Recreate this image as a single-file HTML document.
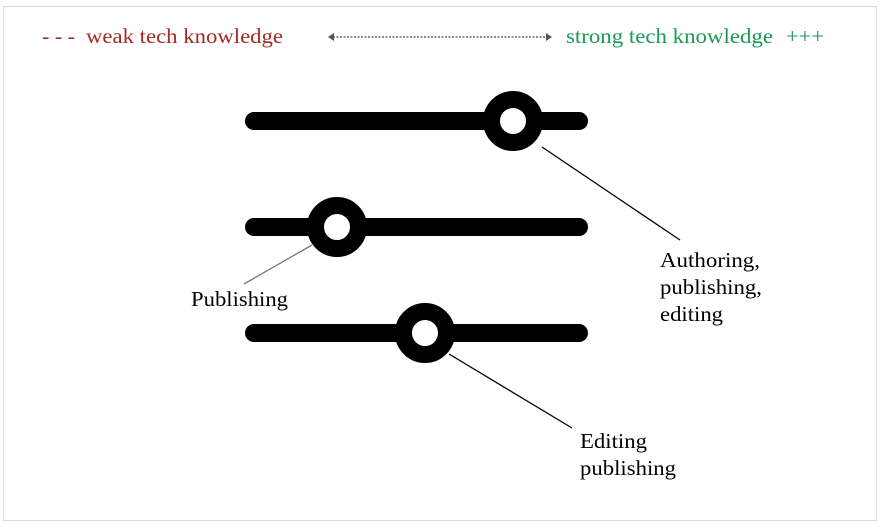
<!DOCTYPE html>
<html><head><style>
body{margin:0;background:#fff;}
svg{display:block;font-family:"Liberation Serif",serif;}
</style></head><body>
<svg width="881" height="526" xmlns="http://www.w3.org/2000/svg">
<rect x="3.5" y="6.5" width="873" height="514" fill="#fff" stroke="#dcdcdc"/>
<text x="42" y="43" font-size="21" fill="#a52a2a" textLength="33" lengthAdjust="spacingAndGlyphs">- - -</text>
<text x="86" y="43" font-size="21" fill="#a52a2a" textLength="197" lengthAdjust="spacingAndGlyphs">weak tech knowledge</text>
<text x="566" y="43" font-size="21" fill="#1a9a55" textLength="207" lengthAdjust="spacingAndGlyphs">strong tech knowledge</text>
<text x="786" y="43" font-size="21" fill="#1a9a55" textLength="38" lengthAdjust="spacingAndGlyphs">+++</text>
<line x1="333" y1="37" x2="547" y2="37" stroke="#666" stroke-width="1.5" stroke-dasharray="2,1.5"/>
<path d="M328 37 L334 33 L334 41Z M552 37 L546 33 L546 41Z" fill="#555"/>
<g stroke="#000" stroke-width="18" stroke-linecap="round">
<line x1="254" y1="121" x2="579" y2="121"/>
<line x1="254" y1="227" x2="579" y2="227"/>
<line x1="254" y1="333" x2="579" y2="333"/>
</g>
<g fill="#fff" stroke="#000" stroke-width="17">
<circle cx="513" cy="121" r="21.5"/>
<circle cx="337" cy="227" r="21.5"/>
<circle cx="425" cy="333" r="21.5"/>
</g>
<line x1="542" y1="147" x2="680" y2="240" stroke="#000" stroke-width="1.3"/>
<line x1="312" y1="245" x2="244" y2="284" stroke="#777" stroke-width="1.3"/>
<line x1="449" y1="354" x2="572" y2="428" stroke="#000" stroke-width="1.3"/>
<g font-size="21" fill="#000" lengthAdjust="spacingAndGlyphs">
<text x="660" y="267" textLength="100" lengthAdjust="spacingAndGlyphs">Authoring,</text>
<text x="660" y="294" textLength="102" lengthAdjust="spacingAndGlyphs">publishing,</text>
<text x="660" y="321" textLength="63" lengthAdjust="spacingAndGlyphs">editing</text>
<text x="191" y="306" textLength="97" lengthAdjust="spacingAndGlyphs">Publishing</text>
<text x="580" y="448" textLength="67" lengthAdjust="spacingAndGlyphs">Editing</text>
<text x="580" y="475" textLength="96" lengthAdjust="spacingAndGlyphs">publishing</text>
</g>
</svg>
</body></html>
